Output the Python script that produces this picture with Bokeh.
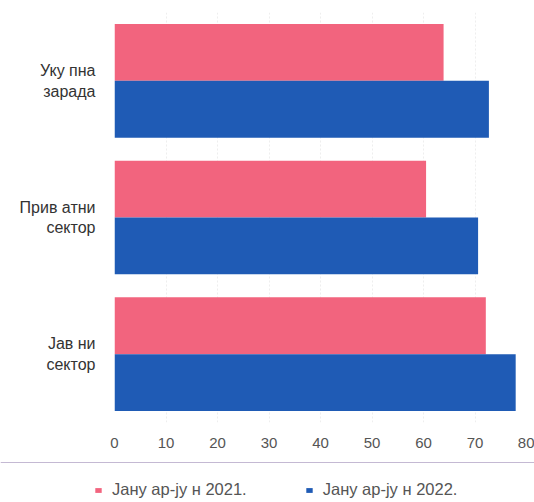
from bokeh.plotting import figure
from bokeh.layouts import column
from bokeh.models import ColumnDataSource, Range1d, FixedTicker, Legend, LegendItem
from bokeh.transform import dodge
from bokeh.embed import file_html
from bokeh.resources import INLINE

categories = ["Уку пна\nзарада", "Прив атни\nсектор", "Јав ни\nсектор"]
series_names = ["Јану ар-ју н 2021.", "Јану ар-ју н 2022."]
values_2021 = [63.9, 60.5, 72.1]
values_2022 = [72.7, 70.6, 77.9]
x_ticks = [0, 10, 20, 30, 40, 50, 60, 70, 80]

pink = "#F2647E"
blue = "#1F5BB5"
font = "Liberation Sans"

idx = list(range(len(categories)))
src = ColumnDataSource(dict(y=idx, v1=values_2021, v2=values_2022))

p = figure(width=534, height=462, output_backend="svg", toolbar_location=None,
           x_range=Range1d(0, 80), y_range=Range1d(2.5, -0.5),
           min_border_left=114, min_border_right=8, min_border_top=12,
           min_border_bottom=40)
p.outline_line_color = None
p.background_fill_color = "white"
p.border_fill_color = "white"

bh = 0.416
r1 = p.hbar(y=dodge("y", -bh / 2, range=p.y_range), right="v1", left=0, height=bh,
            source=src, fill_color=pink, line_color=None)
r2 = p.hbar(y=dodge("y", bh / 2, range=p.y_range), right="v2", left=0, height=bh,
            source=src, fill_color=blue, line_color=None)

p.xaxis.ticker = FixedTicker(ticks=x_ticks)
p.xaxis.axis_line_color = None
p.xaxis.major_tick_line_color = None
p.xaxis.minor_tick_line_color = None
p.xaxis.major_label_standoff = 9
p.xaxis.major_label_text_font = font
p.xaxis.major_label_text_font_size = "15px"
p.xaxis.major_label_text_color = "#555555"

p.yaxis.ticker = FixedTicker(ticks=idx)
p.yaxis.major_label_overrides = {i: c for i, c in zip(idx, categories)}
p.yaxis.axis_line_color = None
p.yaxis.major_tick_line_color = None
p.yaxis.minor_tick_line_color = None
p.yaxis.major_label_standoff = 13
p.yaxis.major_label_text_font = font
p.yaxis.major_label_text_font_size = "16px"
p.yaxis.major_label_text_color = "#333333"

p.ygrid.grid_line_color = None
p.xgrid.grid_line_color = "#dddddd"
p.xgrid.grid_line_alpha = 0.5
p.xgrid.grid_line_dash = "2 2"

# legend strip
lg = figure(width=534, height=40, output_backend="svg", toolbar_location=None,
            tools="", x_range=Range1d(0, 1), y_range=Range1d(0, 1),
            min_border=0, x_axis_location=None, y_axis_location=None)
lg.outline_line_color = None
lg.outline_line_alpha = 0
lg.background_fill_color = "white"
lg.border_fill_color = "white"
lg.xgrid.visible = False
lg.ygrid.visible = False
lg.grid.grid_line_color = None
for fig in (p, lg):
    if "frame_align" in fig.properties():
        fig.frame_align = False
hidden = ColumnDataSource(dict(y=[50], r=[1]))
g1 = lg.hbar(y="y", right="r", height=0.5, source=hidden, fill_color=pink, line_color=None)
g2 = lg.hbar(y="y", right="r", height=0.5, source=hidden, fill_color=blue, line_color=None)

legend = Legend(items=[LegendItem(label=series_names[0], renderers=[g1]),
                       LegendItem(label=series_names[1], renderers=[g2])],
                orientation="horizontal", location=(94, 3),
                glyph_width=8, glyph_height=6, label_standoff=10, spacing=58,
                padding=0, margin=0, border_line_color=None,
                background_fill_alpha=0,
                label_text_font=font, label_text_font_size="16.5px",
                label_text_color="#555555")
lg.add_layout(legend, "center")

layout = column(p, lg, spacing=0)
open("out.html", "w").write(file_html(layout, INLINE))
